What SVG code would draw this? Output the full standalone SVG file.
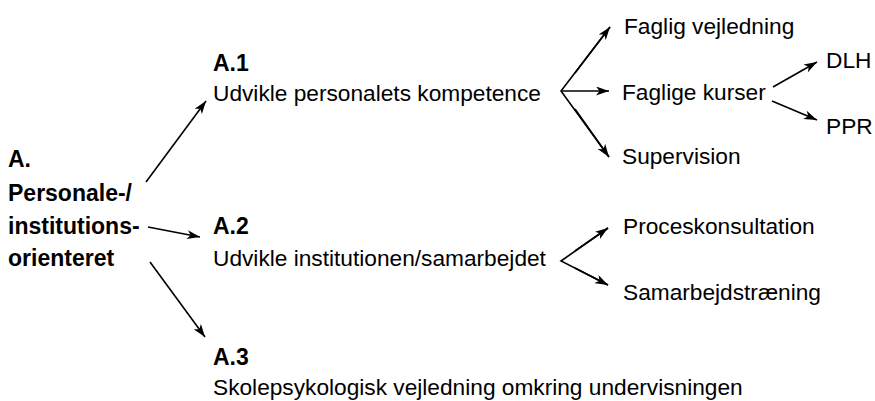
<svg xmlns="http://www.w3.org/2000/svg" width="875" height="401" viewBox="0 0 875 401">
<defs>
<marker id="ah" viewBox="0 0 13 9" refX="13" refY="4.5" markerWidth="13" markerHeight="9" markerUnits="userSpaceOnUse" orient="auto">
<path d="M0,0 L13,4.5 L0,9 L3.5,4.5 Z" fill="#000"/>
</marker>
<style>
text{font-family:"Liberation Sans",Arial,sans-serif;font-size:22.7px;fill:#000}
.b{font-weight:bold;font-size:23px}
.c{stroke:#000;stroke-width:1.6;fill:none;marker-end:url(#ah)}
</style>
</defs>
<rect width="875" height="401" fill="#fff"/>
<g id="nodeA"><text class="b" x="8" y="167">A.</text><text class="b" x="8" y="201">Personale-/</text><text class="b" x="8" y="234">institutions-</text><text class="b" x="8" y="266">orienteret</text></g>
<g id="nodeA1"><text class="b" x="213" y="71">A.1</text><text x="213" y="101">Udvikle personalets kompetence</text></g>
<g id="nodeA2"><text class="b" x="213" y="234">A.2</text><text x="213" y="266">Udvikle institutionen/samarbejdet</text></g>
<g id="nodeA3"><text class="b" x="213" y="365">A.3</text><text x="213" y="395">Skolepsykologisk vejledning omkring undervisningen</text></g>
<g id="faglig"><text x="624" y="34">Faglig vejledning</text></g>
<g id="kurser"><text x="622" y="100">Faglige kurser</text></g>
<g id="supervision"><text x="622" y="164">Supervision</text></g>
<g id="dlh"><text x="826" y="68">DLH</text></g>
<g id="ppr"><text x="826" y="134">PPR</text></g>
<g id="proces"><text x="623" y="234">Proceskonsultation</text></g>
<g id="samarbejd"><text x="623" y="300">Samarbejdstræning</text></g>
<g id="connectors">
<path class="c" d="M146,182 L206,101"/>
<path class="c" d="M148,227 L200,237"/>
<path class="c" d="M150,262 L205,337"/>
<path d="M610,27 L561,91 L609,157" fill="none" stroke="#000" stroke-width="1.6"/>
<path class="c" d="M575,73 L610,27"/>
<path class="c" d="M561,91 L609,91"/>
<path class="c" d="M575,109 L609,157"/>
<path class="c" d="M773,87 L817,62"/>
<path class="c" d="M772,101 L817,120"/>
<path d="M608,228 L561,261 L608,285" fill="none" stroke="#000" stroke-width="1.6"/>
<path class="c" d="M575,251 L608,228"/>
<path class="c" d="M575,268 L608,285"/>
</g>
</svg>
